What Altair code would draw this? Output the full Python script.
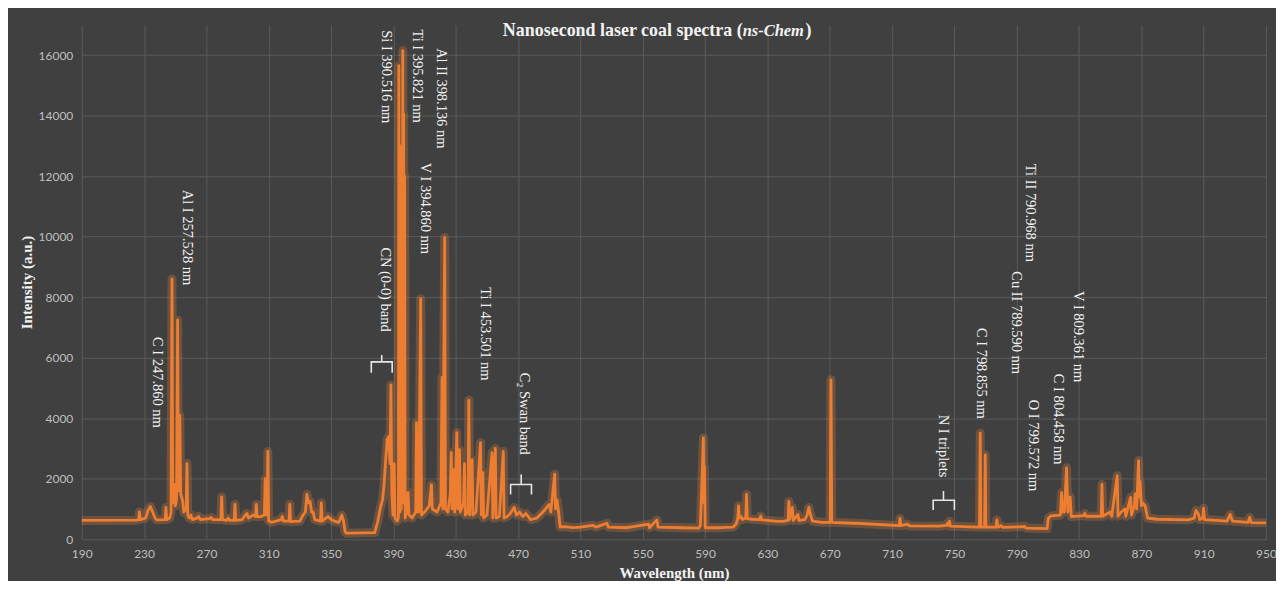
import altair as alt
import pandas as pd

# ---------------- data ----------------
wavelength_nm = [
    190, 225, 226.5, 227, 227.6, 231, 232.5, 234, 235.5, 237, 238, 243.5, 244, 244.6,
    246.5, 247.3, 247.9, 248.4, 249.0, 249.5, 250.0, 250.8, 251.5, 252.0, 252.5, 252.9,
    253.5, 254.6, 255.5, 257.0, 257.5, 258.0, 259, 260, 261, 264, 265, 266, 272, 273, 274,
    279.3, 279.8, 280.3, 283, 284, 285, 287.8, 288.3, 288.8, 293, 295, 296, 297, 300,
    301.5, 302, 302.5, 305, 307.2, 307.7, 308.2, 309.0, 309.4, 309.9, 312, 318, 318.7,
    319.5, 323, 323.5, 324, 330, 332, 333.5, 334.5, 335.5, 336.5, 337.5, 338.5, 339.5,
    343.2, 343.7, 344.2, 348, 350, 353, 355, 356.9, 358.0, 359.0, 360, 370, 378, 380,
    381.5, 383, 384, 385, 386, 387, 387.8, 388.4, 389, 389.7, 390.5, 391, 392.5, 393.2,
    393.5, 393.8, 394.1, 394.4, 394.7, 395.0, 395.3, 395.6, 396.0, 396.3, 396.6, 396.9,
    397.2, 397.5, 398.5, 399.4, 400, 402, 404.3, 404.8, 405.2, 405.7, 406.2, 407.5, 408,
    410, 413, 414.4, 415, 418, 420.5, 421.2, 421.7, 422.9, 423.4, 425, 426.5, 427.1,
    427.6, 428.8, 429.3, 430.7, 431.2, 432.4, 432.9, 435.0, 435.6, 436.1, 437.9, 438.4,
    438.9, 440.5, 441, 443, 445.9, 446.4, 447.4, 447.9, 450, 453.3, 453.8, 455.4, 455.9,
    458, 460.5, 461, 463, 465, 467.5, 469, 471, 473, 475, 478, 482, 485, 487.6, 489, 490,
    491, 493.5, 494, 495, 496, 497, 500, 505, 510, 518, 520, 527, 528, 540, 553.8, 554.3,
    559.1, 559.8, 575, 586, 587, 588.9, 589.3, 589.6, 590.1, 600, 608, 610, 611, 611.5,
    612, 613.2, 614, 616.1, 616.6, 617.1, 620, 625, 625.7, 626.3, 635, 640, 643.3, 643.8,
    644.3, 646, 646.6, 649.6, 650.2, 654, 655.5, 656.6, 657.7, 659, 665, 670.3, 670.8,
    671.3, 690, 714.6, 715.1, 715.6, 720, 721, 740, 745, 745.5, 746, 746.8, 747.5, 760,
    766.1, 766.6, 767.0, 769.4, 769.8, 770.2, 776.7, 777.3, 777.9, 780, 781, 795, 796,
    809.5, 810.3, 812, 818, 818.8, 819.4, 820, 820.6, 822, 822.8, 824.3, 825, 833, 833.7,
    834.5, 844.2, 844.7, 845.2, 850, 851, 854.5, 855, 857, 859.5, 860, 863.1, 863.6,
    865.5, 866, 867, 868.2, 868.7, 869.2, 870, 870.9, 872.4, 874, 880, 900, 904, 905,
    906.5, 907.5, 909.4, 909.9, 910.5, 925, 927, 928.5, 938.5, 939.5, 940.5, 950,
]
intensity_au = [
    620, 630, 640, 900, 650, 700, 950, 1080, 900, 700, 640, 650, 1050, 650,
    700, 900, 8600, 1200, 1400, 1800, 1100, 1300, 7250, 1600, 2800, 4100,
    1500, 1300, 900, 1000, 2500, 800, 700, 800, 650, 700, 750, 650, 680, 720, 650,
    650, 1400, 650, 620, 700, 620, 620, 1150, 620, 650, 800, 850, 700, 800,
    750, 1150, 750, 750, 800, 2000, 800, 900, 2900, 600, 560, 650, 750,
    600, 600, 1150, 580, 600, 800, 900, 1480, 1200, 1250, 900, 900, 650,
    600, 1200, 600, 750, 650, 580, 560, 800, 600, 250, 200, 210, 220, 600,
    1000, 1300, 1800, 2600, 3300, 3400, 2500, 5100, 1500, 800, 2500, 700, 600, 700,
    15650, 1000, 12500, 900, 13000, 1000, 12500, 1200, 16150, 1500, 14050, 1200,
    12000, 700, 900, 1550, 800, 700, 900, 3850, 900, 3050, 900, 7950, 800,
    900, 1100, 1800, 1000, 900, 1200, 5350, 1000, 9970, 1000, 900, 1500, 2860,
    1000, 2300, 900, 3520, 1000, 2960, 900, 1200, 2500, 800, 900, 4600,
    800, 2630, 800, 900, 3190, 800, 2200, 700, 800, 2860, 700, 3000, 700,
    750, 2900, 700, 750, 850, 1050, 800, 900, 750, 850, 650, 700, 850, 1000, 1100, 1150,
    900, 2150, 1000, 1300, 900, 400, 420, 380, 400, 460, 400, 530, 400, 380, 500, 380,
    640, 400, 380, 370, 450, 3350, 1200, 2400, 380, 380, 400, 500, 700, 1100,
    700, 750, 650, 700, 1480, 680, 660, 650, 770, 640, 600, 590, 620, 1250,
    650, 1050, 620, 820, 620, 650, 800, 1050, 800, 600, 560, 560, 5270,
    560, 520, 450, 690, 450, 500, 440, 430, 460, 520, 450, 600, 430, 410,
    400, 3510, 400, 400, 2790, 400, 400, 640, 400, 450, 390, 420, 370,
    350, 700, 770, 800, 1540, 900, 1100, 900, 2360, 900, 1400, 750, 780, 850,
    760, 760, 1810, 760, 900, 760, 2100, 760, 900, 1000, 760, 1380, 800,
    1100, 1500, 1000, 2600, 1400, 1900, 1100, 1200, 1100, 700, 660, 640, 700, 950,
    850, 650, 700, 1020, 650, 600, 820, 600, 560, 720, 550, 540,
]

label_text = [
    "C I 247.860 nm", "Al I 257.528 nm", "Si I 390.516 nm", "Ti I 395.821 nm",
    "Al II 398.136 nm", "V I 394.860 nm", "CN (0-0) band", "Ti I 453.501 nm",
    "C\u2082 Swan band", "N I triplets", "C I 798.855 nm", "Ti II 790.968 nm",
    "Cu II 789.590 nm", "V I 809.361 nm", "C I 804.458 nm", "O I 799.572 nm",
]
label_nm = [238.5, 257.7, 385.4, 405.2, 420.5, 410.3, 384.8, 448.6,
            473.5, 743.0, 767.3, 798.6, 789.6, 829.2, 816.4, 800.5]
label_top = [6680, 11550, 16820, 16850, 16230, 12440, 9645, 8330,
             5500, 4115, 6980, 12410, 8855, 8200, 5465, 4610]

# brackets: left, centre, right wavelength; tip, bar, end intensity
bracket_left = [375.8, 465.2, 736.4]
bracket_center = [382.5, 472.0, 743.0]
bracket_right = [389.2, 478.6, 750.0]
bracket_tip = [6090, 2140, 1590]
bracket_bar = [5860, 1810, 1290]
bracket_end = [5500, 1480, 965]

x_ticks = list(range(190, 951, 40))
y_ticks = list(range(0, 16001, 2000))

# ---------------- tables ----------------
spec = pd.DataFrame({"wl": wavelength_nm, "I": intensity_au})
labels = pd.DataFrame({"t": label_text, "wl": label_nm, "I": label_top})

rows = []
for i in range(len(bracket_center)):
    L, C, R = bracket_left[i], bracket_center[i], bracket_right[i]
    T, B, E = bracket_tip[i], bracket_bar[i], bracket_end[i]
    pts = [(L, E), (L, B), (C, B), (C, T), (C, B), (R, B), (R, E)]
    for k, (a, b) in enumerate(pts):
        rows.append({"id": i, "k": k, "wl": a, "I": b})
brackets = pd.DataFrame(rows)

ORANGE = "#ED7D31"
SERIF = "Liberation Serif"

x_enc = alt.X("wl:Q", scale=alt.Scale(domain=[190, 950], nice=False, zero=False),
              axis=alt.Axis(values=x_ticks, title="Wavelength (nm)", grid=True,
                            labelFlush=False, format="d"))
y_enc = alt.Y("I:Q", scale=alt.Scale(domain=[0, 17000], nice=False),
              axis=alt.Axis(values=y_ticks, title="Intensity (a.u.)", grid=True,
                            format="d"))

glow = alt.Chart(spec).mark_line(color="#F58A3C", strokeWidth=9, opacity=0.25,
                                 strokeJoin="round").encode(x=x_enc, y=y_enc)
line = alt.Chart(spec).mark_line(color=ORANGE, strokeWidth=2.8,
                                 strokeJoin="round").encode(x="wl:Q", y="I:Q")

text = alt.Chart(labels).mark_text(angle=90, align="left", baseline="middle",
                                   font=SERIF, fontSize=14.5, color="#F2F2F2").encode(
    x="wl:Q", y="I:Q", text="t:N")

brk = alt.Chart(brackets).mark_line(color="#E6E6E6", strokeWidth=1.6).encode(
    x="wl:Q", y="I:Q", detail="id:N", order="k:Q")

t1 = alt.Chart(pd.DataFrame({"s": ["Nanosecond laser coal spectra ("]})).mark_text(
    align="right", baseline="middle", font=SERIF, fontSize=18, fontWeight="bold",
    color="#F2F2F2").encode(x=alt.value(663), y=alt.value(6), text="s:N")
t2 = alt.Chart(pd.DataFrame({"s": ["ns-Chem"]})).mark_text(
    align="left", baseline="middle", font=SERIF, fontSize=16.5, fontWeight="bold",
    fontStyle="italic", color="#F2F2F2").encode(x=alt.value(663), y=alt.value(6), text="s:N")
t3 = alt.Chart(pd.DataFrame({"s": [")"]})).mark_text(
    align="left", baseline="middle", font=SERIF, fontSize=18, fontWeight="bold",
    color="#F2F2F2").encode(x=alt.value(726), y=alt.value(6), text="s:N")

chart = alt.layer(glow, line, brk, text, t1, t2, t3).properties(
    width=1188, height=516,
    padding={"left": 74, "top": 16, "right": 10, "bottom": 41},
    autosize=alt.AutoSizeParams(type="none"),
    background="#404040",
).configure_view(strokeWidth=0).configure_axis(
    gridColor="#5A5A5A", gridWidth=1, domain=False, ticks=False,
    labelColor="#BFBFBF", labelFont="Lato", labelFontSize=12, labelPadding=9,
    titleColor="#F2F2F2", titleFont=SERIF, titleFontSize=15, titleFontWeight="bold",
).configure_axisY(titlePadding=4).configure_axisX(titlePadding=6)

chart.save("out.html", embed_options={"renderer": "svg", "actions": False})
